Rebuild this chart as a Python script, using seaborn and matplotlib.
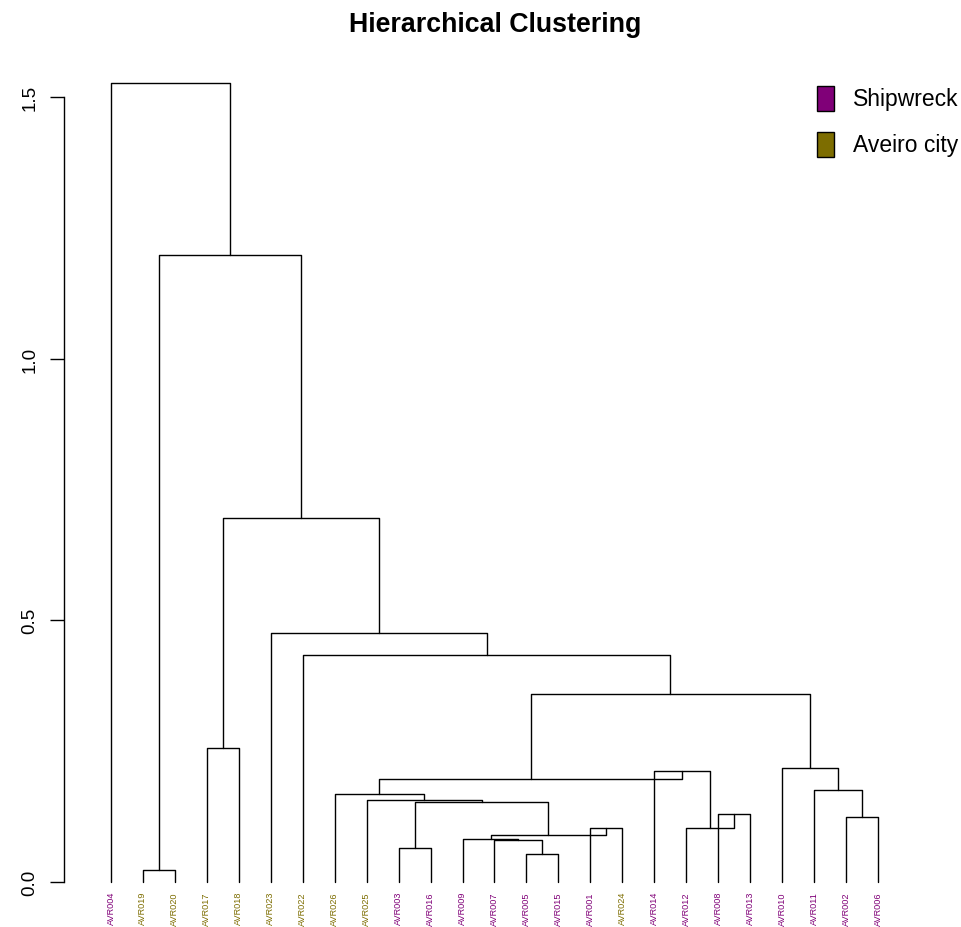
import matplotlib
matplotlib.use("Agg")
import matplotlib.pyplot as plt
from matplotlib.patches import Rectangle
import pandas as pd
import seaborn as sns

# Leaves in dendrogram order, with their sampling site
leaf_labels = ["AVR004", "AVR019", "AVR020", "AVR017", "AVR018", "AVR023", "AVR022",
               "AVR026", "AVR025", "AVR003", "AVR016", "AVR009", "AVR007", "AVR005",
               "AVR015", "AVR001", "AVR024", "AVR014", "AVR012", "AVR008", "AVR013",
               "AVR010", "AVR011", "AVR002", "AVR006"]
leaf_groups = ["Shipwreck", "Aveiro city", "Aveiro city", "Aveiro city", "Aveiro city",
               "Aveiro city", "Aveiro city", "Aveiro city", "Aveiro city", "Shipwreck",
               "Shipwreck", "Shipwreck", "Shipwreck", "Shipwreck", "Shipwreck",
               "Shipwreck", "Aveiro city", "Shipwreck", "Shipwreck", "Shipwreck",
               "Shipwreck", "Shipwreck", "Shipwreck", "Shipwreck", "Shipwreck"]

# Merge steps: (left child, right child); a child is a leaf label or the index of an earlier merge
merge_left = ["AVR019", "AVR005", "AVR003", "AVR007", "AVR009", "AVR001", 4, "AVR008",
              "AVR012", "AVR002", 2, "AVR025", "AVR026", "AVR011", "AVR014", "AVR010",
              12, "AVR017", 16, "AVR022", "AVR023", 17, 0, "AVR004"]
merge_right = ["AVR020", "AVR015", "AVR016", 1, 3, "AVR024", 5, "AVR013",
               7, "AVR006", 6, 10, 11, 9, 8, 13,
               14, "AVR018", 15, 18, 19, 20, 21, 22]
merge_height = [0.023, 0.054, 0.065, 0.080, 0.083, 0.104, 0.090, 0.130,
                0.104, 0.125, 0.153, 0.157, 0.168, 0.176, 0.212, 0.218,
                0.197, 0.256, 0.359, 0.434, 0.476, 0.696, 1.198, 1.526]

group_colors = {"Shipwreck": "#800078", "Aveiro city": "#7D6D00"}

sns.set_style("white")
plt.rcParams["font.family"] = ["Liberation Sans", "DejaVu Sans"]
plt.rcParams["text.color"] = "black"
plt.rcParams["ytick.color"] = "black"
plt.rcParams["ytick.labelcolor"] = "black"

# Position and height of every node
leaf_pos = {lab: i + 1 for i, lab in enumerate(leaf_labels)}


def node_xy(child, nodes):
    if isinstance(child, str):
        return leaf_pos[child], 0.0
    return nodes[child]


nodes = []
rows = []
for k, (a, b, h) in enumerate(zip(merge_left, merge_right, merge_height)):
    xa, ya = node_xy(a, nodes)
    xb, yb = node_xy(b, nodes)
    for x, y in [(xa, ya), (xa, h), (xb, h), (xb, yb)]:
        rows.append({"seg": k, "x": x, "y": y})
    nodes.append(((xa + xb) / 2.0, h))
segments = pd.DataFrame(rows)

W, H = 962, 928
fig = plt.figure(figsize=(W / 100, H / 100), dpi=100)
ax = fig.add_axes([64 / W, 1 - 897 / H, (925 - 64) / W, (897 - 70) / H])

sns.lineplot(data=segments, x="x", y="y", units="seg", estimator=None, sort=False,
             color="black", linewidth=1.0, ax=ax, legend=False)

n = len(leaf_labels)
pad_units = 47 / 31.96
ax.set_xlim(1 - pad_units, n + pad_units)
px_per_unit = 523.3
ax.set_ylim(-(897 - 883) / px_per_unit, (883 - 70) / px_per_unit)

# Leaf labels below the tree, coloured by site
for lab, grp in zip(leaf_labels, leaf_groups):
    ax.annotate(lab, xy=(leaf_pos[lab], 0), xytext=(0, -6.5), textcoords="offset points",
                rotation=90, ha="center", va="top", fontsize=6.6,
                color=group_colors[grp], annotation_clip=False)

# R-style y axis
for side in ["top", "right", "bottom"]:
    ax.spines[side].set_visible(False)
ax.spines["left"].set_bounds(0, 1.5)
ax.spines["left"].set_linewidth(1.0)
ax.spines["left"].set_color("black")
ax.set_xticks([])
ax.set_yticks([0.0, 0.5, 1.0, 1.5])
ax.set_yticklabels(["0.0", "0.5", "1.0", "1.5"], rotation=90, va="center")
ax.tick_params(axis="y", length=10, width=1.0, pad=8.5, labelsize=13.5, color="black",
               labelcolor="black", left=True)
ax.set_xlabel("")
ax.set_ylabel("")

fig.text(495 / W, 1 - 25 / H, "Hierarchical Clustering", ha="center", va="center",
         fontsize=19.3, fontweight="bold", color="black")

# Legend
for (grp, yc) in [("Shipwreck", 99.5), ("Aveiro city", 145.5)]:
    fig.add_artist(Rectangle((817 / W, 1 - (yc + 12.5) / H), 17 / W, 25 / H,
                             transform=fig.transFigure, facecolor=group_colors[grp],
                             edgecolor="black", linewidth=1.0))
    fig.text(853 / W, 1 - yc / H, grp, ha="left", va="center", fontsize=16.5,
             color="black")

fig.savefig("out.png", dpi=100)
